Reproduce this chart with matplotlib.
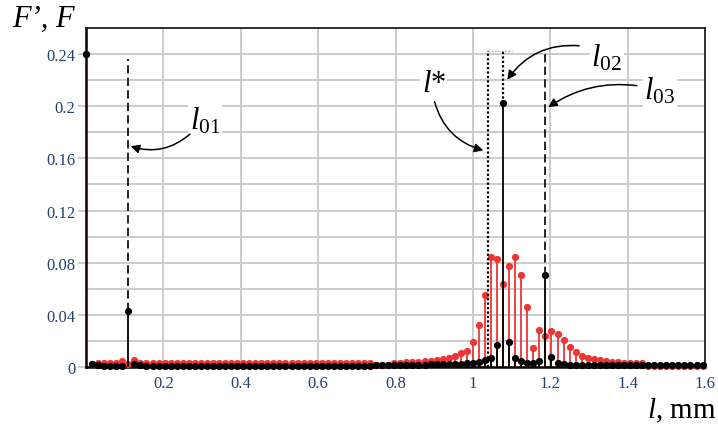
import numpy as np
import matplotlib
matplotlib.use("Agg")
import matplotlib.pyplot as plt

plt.rcParams['font.family'] = ['Liberation Serif', 'DejaVu Serif']
plt.rcParams['mathtext.fontset'] = 'custom'
plt.rcParams['mathtext.rm'] = 'Liberation Serif'
plt.rcParams['mathtext.it'] = 'Liberation Serif:italic'

# sampled spectrum, step 1/64 mm
l_step = 1 / 64

# F' (red) values
F_prime = [
    0.240, 0.0020, 0.0028, 0.0028, 0.0028, 0.0030, 0.0044, 0.0020, 0.0056, 0.0032,
    0.0028, 0.0028, 0.0028, 0.0028, 0.0028, 0.0028, 0.0028, 0.0028, 0.0028, 0.0028,
    0.0028, 0.0028, 0.0028, 0.0028, 0.0028, 0.0028, 0.0028, 0.0028, 0.0028, 0.0028,
    0.0028, 0.0028, 0.0028, 0.0028, 0.0028, 0.0028, 0.0028, 0.0028, 0.0028, 0.0028,
    0.0028, 0.0028, 0.0028, 0.0028, 0.0028, 0.0028, 0.0028, 0.0028, 0.0015, 0.0012,
    0.0012, 0.0032, 0.0034, 0.0036, 0.0038, 0.0040, 0.0043, 0.0048, 0.0053, 0.0060,
    0.0069, 0.0082, 0.0105, 0.0125, 0.0190, 0.0325, 0.0550, 0.0840, 0.0830, 0.0640,
    0.0777, 0.0846, 0.0705, 0.0457, 0.0143, 0.0285, 0.0240, 0.0275, 0.0255, 0.0207,
    0.0152, 0.0112, 0.0085, 0.0070, 0.0060, 0.0050, 0.0045, 0.0040, 0.0036, 0.0034,
    0.0033, 0.0032, 0.0032, 0.0010, 0.0010, 0.0010, 0.0010, 0.0010, 0.0010, 0.0010,
    0.0010, 0.0010, 0.0010,
]

# F (black) values
F = [
    0.240, 0.0026, 0.0018, 0.0010, 0.0008, 0.0008, 0.0008, 0.0430, 0.0026, 0.0015,
    0.0010, 0.0008, 0.0008, 0.0008, 0.0008, 0.0008, 0.0008, 0.0008, 0.0008, 0.0008,
    0.0008, 0.0008, 0.0008, 0.0008, 0.0008, 0.0008, 0.0008, 0.0008, 0.0008, 0.0008,
    0.0008, 0.0008, 0.0008, 0.0008, 0.0008, 0.0008, 0.0008, 0.0008, 0.0008, 0.0008,
    0.0008, 0.0008, 0.0008, 0.0008, 0.0008, 0.0008, 0.0008, 0.0010, 0.0012, 0.0013,
    0.0013, 0.0015, 0.0015, 0.0016, 0.0017, 0.0018, 0.0019, 0.0020, 0.0021, 0.0022,
    0.0023, 0.0024, 0.0026, 0.0028, 0.0032, 0.0038, 0.0050, 0.0068, 0.0172, 0.2025,
    0.0194, 0.0068, 0.0047, 0.0030, 0.0030, 0.0046, 0.0705, 0.0078, 0.0028, 0.0022,
    0.0018, 0.0016, 0.0015, 0.0015, 0.0015, 0.0015, 0.0015, 0.0015, 0.0015, 0.0015,
    0.0015, 0.0015, 0.0015, 0.0015, 0.0015, 0.0015, 0.0015, 0.0015, 0.0015, 0.0015,
    0.0015, 0.0015, 0.0015,
]

y_ticks = [0, 0.04, 0.08, 0.12, 0.16, 0.2, 0.24]
y_tick_labels = ['0', '0.04', '0.08', '0.12', '0.16', '0.2', '0.24']
x_ticks = [0.2, 0.4, 0.6, 0.8, 1.0, 1.2, 1.4, 1.6]
x_tick_labels = ['0.2', '0.4', '0.6', '0.8', '1', '1.2', '1.4', '1.6']

# characteristic lengths (mm)
l01 = 7 * l_step
l02 = 69 * l_step
l03 = 76 * l_step
l_star = 1.039

l_mm = np.arange(len(F)) * l_step
F_prime = np.array(F_prime)
F = np.array(F)

red = '#ee3535'
tick_col = '#26406a'

fig = plt.figure(figsize=(7.18, 4.27), dpi=100)
ax = fig.add_axes([0.1198, 0.1382, 0.8621, 0.7939])

# stems
ax.vlines(l_mm, 0, F_prime, color=red, lw=1.3, zorder=3)
ax.plot(l_mm, F_prime, 'o', color=red, ms=5.2, mec='none', zorder=4, clip_on=False)
ax.vlines(l_mm, 0, F, color='black', lw=1.3, zorder=5)
ax.plot(l_mm, F, 'o', color='black', ms=5.2, mec='none', zorder=6, clip_on=False)

# marker lines
ax.plot([l01, l01], [F[7], 0.236], color='black', lw=1.2, ls=(0, (5, 2.5)), zorder=5)
ax.plot([l03, l03], [F[76], 0.240], color='black', lw=1.2, ls=(0, (5, 2.5)), zorder=5)
ax.plot([l_star, l_star], [0, 0.242], color='black', lw=1.6, ls=(0, (1.0, 1.0)), zorder=5)
ax.plot([l02, l02], [F[69], 0.242], color='black', lw=1.6, ls=(0, (1.0, 1.0)), zorder=5)
ax.plot([l_star, 1.10], [0.242, 0.242], color='#aaaaaa', lw=1.0, ls=(0, (1.2, 1.2)), zorder=2)

ax.set_xlim(0, 1.6)
ax.set_ylim(0, 0.26)
ax.set_yticks(y_ticks)
ax.set_yticklabels(y_tick_labels)
ax.set_yticks(np.arange(0.02, 0.26, 0.04), minor=True)
ax.set_xticks(x_ticks)
ax.set_xticklabels(x_tick_labels)
ax.grid(True, which='both', color='#c8c8c8', lw=1.3, zorder=0)
ax.set_axisbelow(True)
ax.tick_params(axis='y', which='major', length=6, width=1.3, color='#c8c8c8',
               pad=1.5, labelsize=12, labelcolor=tick_col)
ax.tick_params(axis='y', which='minor', length=0)
ax.tick_params(axis='x', length=0, pad=6, labelsize=12, labelcolor=tick_col)

for side in ['left', 'bottom']:
    ax.spines[side].set_linewidth(1.8)
    ax.spines[side].set_color('black')
for side in ['top', 'right']:
    ax.spines[side].set_linewidth(1.3)
    ax.spines[side].set_color('#222222')

# axis titles
fig.text(0.017, 0.955, 'F’, F', fontsize=22, style='italic', ha='left', va='center')
fig.text(0.998, 0.038, '$l$, mm', fontsize=21, ha='right', va='center')

# annotations
box = dict(facecolor='white', edgecolor='none', pad=1)
arrow = dict(arrowstyle='-|>', color='black', lw=1.1, mutation_scale=13)

ax.text(0.3075, 0.1894, '$l_{01}$', fontsize=22, ha='center', va='center', bbox=box, zorder=7)
ax.annotate('', xy=(0.1085, 0.170), xytext=(0.274, 0.180),
            arrowprops=dict(arrow, connectionstyle='arc3,rad=-0.3'), zorder=7)

ax.text(0.899, 0.2178, '$l$*', fontsize=22, ha='center', va='center', bbox=box, zorder=7)
ax.annotate('', xy=(1.034, 0.1656), xytext=(0.899, 0.2055),
            arrowprops=dict(arrow, connectionstyle='arc3,rad=0.3'), zorder=7)

ax.text(1.346, 0.2377, '$l_{02}$', fontsize=22, ha='center', va='center', bbox=box, zorder=7)
ax.annotate('', xy=(1.085, 0.2186), xytext=(1.282, 0.2462),
            arrowprops=dict(arrow, connectionstyle='arc3,rad=0.3'), zorder=7)

ax.text(1.483, 0.2124, '$l_{03}$', fontsize=22, ha='center', va='center', bbox=box, zorder=7)
ax.annotate('', xy=(1.189, 0.198), xytext=(1.431, 0.2155),
            arrowprops=dict(arrow, connectionstyle='arc3,rad=0.2'), zorder=7)

fig.savefig('out.png', dpi=100)
